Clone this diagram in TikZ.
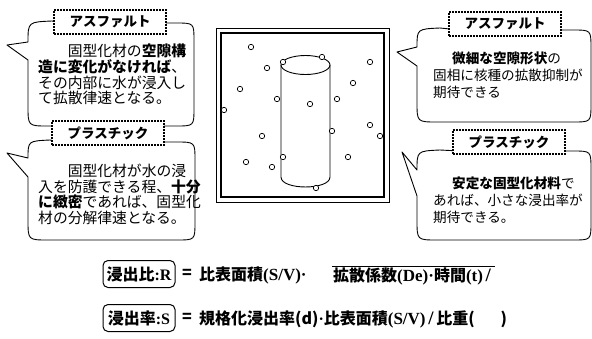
\documentclass[tikz,border=0pt]{standalone}
\usepackage{fontspec}
\newfontfamily\jp{Noto Sans CJK JP}[BoldFont={Noto Sans CJK JP Black}]
\newfontfamily\lat{Liberation Serif}
\newcommand{\solid}{\,{\lat\fontsize{19}{19}\selectfont /}\,}
\usetikzlibrary{positioning}

\tikzset{
  bubble/.style={line width=0.9pt, line join=round},
  tag/.style={draw, fill=white, line width=1.8pt, dash pattern=on 1.8pt off 1.2pt,
    minimum width=112pt, minimum height=24pt, inner sep=0pt,
    font=\jp\bfseries\fontsize{13.5}{13.5}\selectfont},
  lefttext/.style={anchor=north west, align=left, inner sep=0pt,
    font=\jp\fontsize{14.8}{15.6}\selectfont},
  righttext/.style={anchor=north west, align=left, inner sep=0pt,
    font=\jp\fontsize{13.6}{17}\selectfont},
  pore/.style={draw, fill=white, line width=0.7pt},
  eqbox/.style={draw, rounded corners=5pt, line width=1pt, minimum width=72pt,
    minimum height=27pt, inner sep=1pt},
  eqtext/.style={inner sep=1pt, font=\jp\bfseries\fontsize{16}{16}\selectfont}
}

\begin{document}
\begin{tikzpicture}[x=1pt, y=-1pt]
\useasboundingbox (0,0) rectangle (592,338);

% callouts on the left
\draw[bubble] (60,23) -- (176,23) .. controls (194,23) .. (194,41) -- (194,108)
  .. controls (194,126) .. (176,126) -- (48,126) .. controls (28,126) .. (28,106)
  -- (28,60) -- (7,45) -- (28,42) .. controls (28,22) .. (52,21) -- cycle;
\draw[bubble] (60,142) -- (176,142) .. controls (195,142) .. (195,160) -- (195,222)
  .. controls (195,240) .. (177,240) -- (48,240) .. controls (28,240) .. (28,220)
  -- (28,177) -- (7,153) -- (28,158) .. controls (28,141) .. (50,140) -- cycle;

% callouts on the right
\draw[bubble] (460,30) -- (573,30) .. controls (591,30) .. (591,48) -- (591,104)
  .. controls (591,122) .. (573,122) -- (437,122) .. controls (417,122) .. (417,102)
  -- (417,66) -- (397,52) -- (417,47) .. controls (417,29) .. (440,28) -- cycle;
\draw[bubble] (460,151) -- (573,151) .. controls (591,151) .. (591,169) -- (591,222)
  .. controls (591,240) .. (573,240) -- (437,240) .. controls (417,240) .. (417,220)
  -- (417,196) -- (402,152) -- (417,170) .. controls (417,151) .. (440,150) -- cycle;

\node[tag] (asphL) at (110,22) {アスファルト};
\node[tag] (plasL) at (108,133) {プラスチック};
\node[tag] (asphR) at (505,24) {アスファルト};
\node[tag] (plasR) at (509,142) {プラスチック};

\node[lefttext] (txtA) at (38,44) {\hspace*{2em}固型化材の\textbf{空隙構}\\
  \textbf{造に変化がなければ}、\\その内部に水が浸入し\\て拡散律速となる。};
\node[lefttext] (txtB) at (38,164) {\hspace*{2em}固型化材が水の浸\\
  入を防護できる程、\textbf{十分}\\\textbf{に緻密}であれば、固型化\\材の分解律速となる。};
\node[righttext] (txtC) at (433,52) {\hspace*{1.4em}\textbf{微細な空隙形状}の\\
  固相に核種の拡散抑制が\\期待できる};
\node[righttext] (txtD) at (433,177) {\hspace*{1.4em}\textbf{安定な固型化材料}で\\
  あれば、小さな浸出率が\\期待できる。};

% waste form in its drum
\draw[line width=0.8pt] (216,28) rectangle (389,202);
\draw[line width=2pt] (221,33) rectangle (384,197);
\draw[line width=0.9pt] (305.5,65) ellipse (24.5 and 9.5);
\draw[line width=0.9pt] (281,65) -- (281,177) .. controls (281,190.3) and (330,190.3)
  .. (330,177) -- (330,65);
\foreach \x/\y in {251/47, 322/57, 283/62, 370/62, 267/68, 353/83, 240/89,
    277/99, 337/99, 310/104, 224/110, 370/125, 332/131, 262/136, 380/136,
    283/157, 348/157, 246/162, 272/167, 316/188}
  \draw[pore] (\x,\y) circle (2.7);

% leach ratio and leach rate
\node[eqbox, eqtext] (ratio) at (139,274) {浸出比{\lat:R}};
\node[eqtext] (eqA) at (187,274) {=};
\node[eqtext, anchor=west] (surfA) at (198,275) {比表面積{\lat\fontsize{17}{17}\selectfont(S/V)·}};
\node[eqtext, anchor=west] (root) at (332,276)
  {拡散係数{\lat\fontsize{17}{17}\selectfont(De)·}時間{\lat\fontsize{17}{17}\selectfont(t)}\solid\hspace{18pt}};
\draw[line width=1pt] (root.north west) -- (root.north east);

\node[eqbox, eqtext] (rate) at (139,318) {浸出率{\lat:S}\hspace{6pt}};
\node[eqtext] (eqB) at (187,318) {=};
\node[eqtext, anchor=west] (surfB) at (198,319)
  {規格化浸出率(d){\lat·}比表面積{\lat\fontsize{17}{17}\selectfont(S/V)}\solid 比重(\hspace{26pt})};
\end{tikzpicture}
\end{document}
